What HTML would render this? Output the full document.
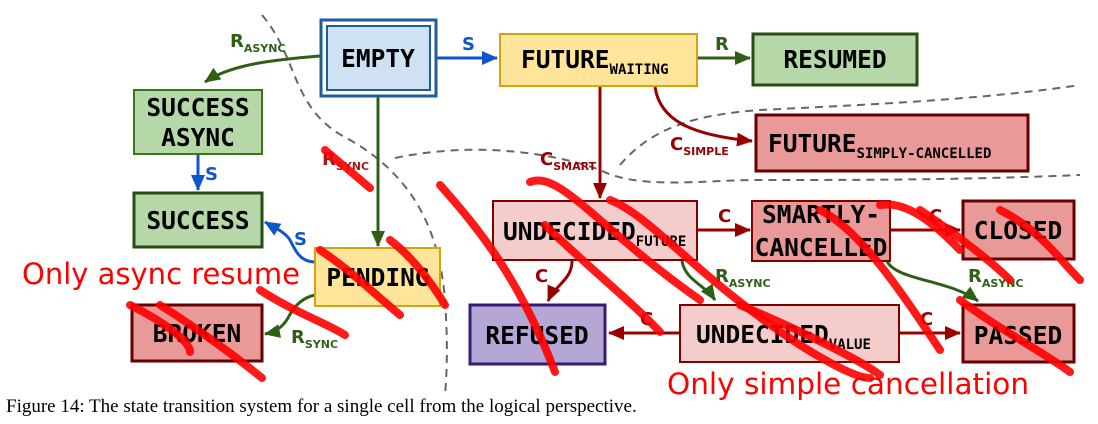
<!DOCTYPE html>
<html><head><meta charset="utf-8"><style>
body{margin:0;width:1098px;height:424px;background:#fff;overflow:hidden}
svg{display:block}
.bt{font-family:"DejaVu Sans Mono","Liberation Mono",monospace;font-weight:bold;font-size:24.5px;fill:#000}
.sub{font-size:14px}
.lbl{font-family:"DejaVu Sans","Liberation Sans",sans-serif;font-weight:bold;font-size:18px}
.ls{font-size:11px}
.scr{stroke:#ff0000;stroke-width:8;fill:none;stroke-linecap:round;opacity:.9}
</style></head><body>
<svg width="1098" height="424" viewBox="0 0 1098 424">
<defs>
<marker id="ag" markerWidth="16" markerHeight="14" refX="15" refY="7" orient="auto" markerUnits="userSpaceOnUse"><path d="M0,0L16,7L0,14z" fill="#2f5f17"/></marker>
<marker id="ab" markerWidth="16" markerHeight="14" refX="15" refY="7" orient="auto" markerUnits="userSpaceOnUse"><path d="M0,0L16,7L0,14z" fill="#1155cc"/></marker>
<marker id="ar" markerWidth="16" markerHeight="14" refX="15" refY="7" orient="auto" markerUnits="userSpaceOnUse"><path d="M0,0L16,7L0,14z" fill="#990000"/></marker>
</defs>
<g fill="none" stroke="#666" stroke-width="2" stroke-dasharray="8,6">
<path d="M262,15 C300,60 290,110 350,140 C420,180 440,240 445,300 C447,330 448,360 445,395"/>
<path d="M395,158 C480,140 560,155 600,170 C640,190 700,180 760,180 C860,180 960,180 1080,175"/>
<path d="M620,165 C650,130 690,115 760,110 C860,105 980,100 1080,85"/>
</g>
<g stroke-width="3" fill="none">
<path d="M320,56 C270,60 230,65 205,82" stroke="#2f5f17" marker-end="url(#ag)"/>
<path d="M437,58 L497,58" stroke="#1155cc" marker-end="url(#ab)"/>
<path d="M698,58 L750,58" stroke="#2f5f17" marker-end="url(#ag)"/>
<path d="M378,97 L378,246" stroke="#2f5f17" marker-end="url(#ag)"/>
<path d="M198,155 L198,190" stroke="#1155cc" marker-end="url(#ab)"/>
<path d="M315,262 C300,262 295,250 290,240 C285,232 275,228 265,222" stroke="#1155cc" marker-end="url(#ab)"/>
<path d="M315,295 C300,298 292,310 288,318 C282,328 275,332 265,334" stroke="#2f5f17" marker-end="url(#ag)"/>
<path d="M600,87 L600,198" stroke="#990000" marker-end="url(#ar)"/>
<path d="M655,87 C660,120 690,135 752,141" stroke="#990000" marker-end="url(#ar)"/>
<path d="M697,230 L750,230" stroke="#990000" marker-end="url(#ar)"/>
<path d="M890,230 L960,230" stroke="#990000" marker-end="url(#ar)"/>
<path d="M572,261 C572,280 555,285 548,301" stroke="#990000" marker-end="url(#ar)"/>
<path d="M682,261 C685,280 705,285 715,300" stroke="#2f5f17" marker-end="url(#ag)"/>
<path d="M887,261 C895,280 950,280 978,301" stroke="#2f5f17" marker-end="url(#ag)"/>
<path d="M680,333 L609,333" stroke="#990000" marker-end="url(#ar)"/>
<path d="M899,333 L960,333" stroke="#990000" marker-end="url(#ar)"/>
</g>
<g class="lbl">
<text x="230" y="47" fill="#2f5f17">R<tspan class="ls" dy="5">ASYNC</tspan></text>
<text x="462" y="50" fill="#1155cc">S</text>
<text x="715" y="50" fill="#2f5f17">R</text>
<text x="205" y="180" fill="#1155cc">S</text>
<text x="294" y="245" fill="#1155cc">S</text>
<text x="322" y="165" fill="#990000" opacity="0.9">R<tspan class="ls" dy="5">SYNC</tspan></text>
<text x="291" y="343" fill="#2f5f17">R<tspan class="ls" dy="5">SYNC</tspan></text>
<text x="540" y="165" fill="#990000">C<tspan class="ls" dy="5">SMART</tspan></text>
<text x="670" y="150" fill="#990000">C<tspan class="ls" dy="5">SIMPLE</tspan></text>
<text x="718" y="222" fill="#990000">C</text>
<text x="929" y="222" fill="#990000">C</text>
<text x="535" y="282" fill="#990000">C</text>
<text x="715" y="282" fill="#2f5f17">R<tspan class="ls" dy="5">ASYNC</tspan></text>
<text x="968" y="282" fill="#2f5f17">R<tspan class="ls" dy="5">ASYNC</tspan></text>
<text x="640" y="325" fill="#990000">C</text>
<text x="920" y="325" fill="#990000">C</text>
</g>
<g>
<rect x="321" y="20" width="115" height="76" fill="#fff" stroke="#1f5c99" stroke-width="3"/>
<rect x="327" y="26" width="103" height="64" fill="#cfe2f3" stroke="#1f5c99" stroke-width="2"/>
<text class="bt" x="378" y="67" text-anchor="middle">EMPTY</text>
<rect x="500" y="34" width="197" height="52" fill="#ffe599" stroke="#d4a40f" stroke-width="2"/>
<text class="bt" x="521" y="68">FUTURE<tspan class="sub" dy="6">WAITING</tspan></text>
<rect x="753" y="34" width="164" height="51" fill="#b6d7a8" stroke="#274e13" stroke-width="3"/>
<text class="bt" x="835" y="68" text-anchor="middle">RESUMED</text>
<rect x="134" y="90" width="128" height="64" fill="#b6d7a8" stroke="#38761d" stroke-width="2"/>
<text class="bt" x="198" y="116" text-anchor="middle">SUCCESS</text>
<text class="bt" x="198" y="146" text-anchor="middle">ASYNC</text>
<rect x="756" y="115" width="272" height="56" fill="#ea9999" stroke="#660000" stroke-width="3"/>
<text class="bt" x="768" y="152">FUTURE<tspan class="sub" dy="6">SIMPLY-CANCELLED</tspan></text>
<rect x="134" y="193" width="128" height="54" fill="#b6d7a8" stroke="#274e13" stroke-width="3"/>
<text class="bt" x="198" y="229" text-anchor="middle">SUCCESS</text>
<rect x="493" y="201" width="204" height="59" fill="#f4cccc" stroke="#7f0000" stroke-width="2"/>
<text class="bt" x="503" y="240">UNDECIDED<tspan class="sub" dy="6">FUTURE</tspan></text>
<rect x="752" y="201" width="138" height="60" fill="#ea9999" stroke="#7f0000" stroke-width="2"/>
<text class="bt" x="821" y="223" text-anchor="middle">SMARTLY-</text>
<text class="bt" x="821" y="256" text-anchor="middle">CANCELLED</text>
<rect x="963" y="201" width="111" height="58" fill="#ea9999" stroke="#660000" stroke-width="3"/>
<text class="bt" x="1018" y="239" text-anchor="middle">CLOSED</text>
<rect x="315" y="248" width="125" height="58" fill="#ffe599" stroke="#d4a40f" stroke-width="2"/>
<text class="bt" x="378" y="286" text-anchor="middle">PENDING</text>
<rect x="132" y="305" width="130" height="56" fill="#ea9999" stroke="#660000" stroke-width="3"/>
<text class="bt" x="197" y="342" text-anchor="middle">BROKEN</text>
<rect x="470" y="305" width="135" height="59" fill="#b4a7d6" stroke="#351c75" stroke-width="3"/>
<text class="bt" x="537" y="344" text-anchor="middle">REFUSED</text>
<rect x="680" y="305" width="219" height="57" fill="#f4cccc" stroke="#7f0000" stroke-width="2"/>
<text class="bt" x="696" y="343">UNDECIDED<tspan class="sub" dy="6">VALUE</tspan></text>
<rect x="963" y="305" width="111" height="57" fill="#ea9999" stroke="#660000" stroke-width="3"/>
<text class="bt" x="1018" y="344" text-anchor="middle">PASSED</text>
</g>
<g>
<path class="scr" d="M325,150 L370,188"/>
<path class="scr" d="M440,185 C480,230 520,280 555,372"/>
<path class="scr" d="M530,182 C560,170 600,230 700,300"/>
<path class="scr" d="M545,225 C580,260 630,300 660,332"/>
<path class="scr" d="M610,200 C650,215 700,280 800,345 C840,370 860,378 870,378"/>
<path class="scr" d="M740,305 C800,330 860,360 880,375"/>
<path class="scr" d="M820,210 C860,230 900,290 940,350"/>
<path class="scr" d="M880,205 C910,200 940,230 960,250"/>
<path class="scr" d="M920,210 C950,230 990,260 1010,280"/>
<path class="scr" d="M1000,210 C1040,230 1060,260 1080,280"/>
<path class="scr" d="M960,300 C1000,330 1040,350 1070,372"/>
<path class="scr" d="M320,250 C350,270 370,290 400,315"/>
<path class="scr" d="M390,240 C410,255 430,280 445,305"/>
<path class="scr" d="M260,290 C290,310 330,325 345,335"/>
<path class="scr" d="M130,305 C160,320 190,340 190,352"/>
<path class="scr" d="M160,305 C200,330 240,360 262,378"/>
</g>
<text x="22" y="284" font-family="'DejaVu Sans','Liberation Sans',sans-serif" font-size="29" fill="#ff0000">Only async resume</text>
<text x="667" y="394" font-family="'DejaVu Sans','Liberation Sans',sans-serif" font-size="29.5" fill="#ff0000">Only simple cancellation</text>
<text x="6" y="412" font-family="'Liberation Serif',serif" font-size="19" fill="#000">Figure 14: The state transition system for a single cell from the logical perspective.</text>
</svg>
</body></html>
